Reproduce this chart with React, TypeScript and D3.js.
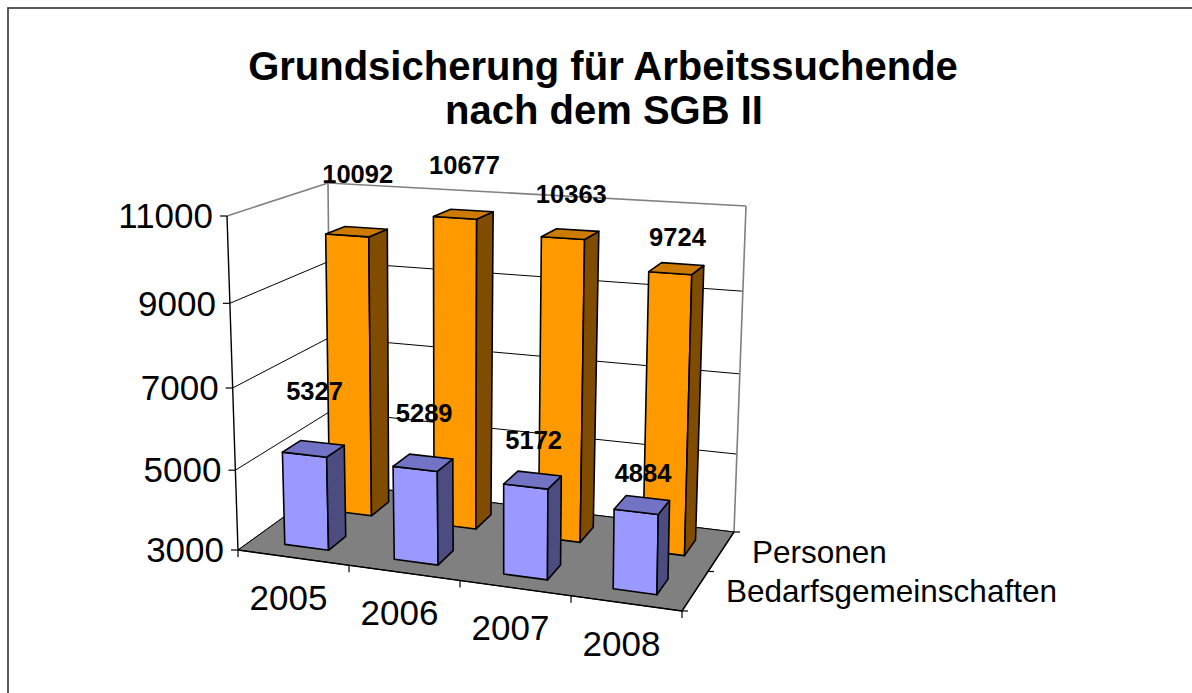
import React from "react";
import * as d3 from "d3";

const categories = ["2005", "2006", "2007", "2008"];
const seriesNames = ["Bedarfsgemeinschaften", "Personen"];
const bedarfsgemeinschaften = [5327, 5289, 5172, 4884];
const personen = [10092, 10677, 10363, 9724];
const valueTicks = [3000, 5000, 7000, 9000, 11000];

const W = 1192;
const H = 693;

type P = [number, number];
// Box corners (projection frame)
const FLB: P = [238, 550], FRB: P = [682, 611], BLB: P = [331, 483], BRB: P = [734, 532];
const FLT: P = [227, 216], FRT: P = [688, 246], BLT: P = [328, 183], BRT: P = [746, 206];
const K = -0.058;

const lerp = (a: P, b: P, t: number): P => [a[0] + (b[0] - a[0]) * t, a[1] + (b[1] - a[1]) * t];
function proj(u: number, w: number, v: number): P {
  const vv = (v * (1 + K)) / (1 + K * v);
  const fb = lerp(FLB, FRB, u), bb = lerp(BLB, BRB, u);
  const ft = lerp(FLT, FRT, u), bt = lerp(BLT, BRT, u);
  const b = lerp(fb, bb, w), t = lerp(ft, bt, w);
  return lerp(b, t, vv);
}
const pts = (a: P[]) => a.map((p) => p[0].toFixed(2) + "," + p[1].toFixed(2)).join(" ");
const line = (a: P, b: P) => ({ x1: a[0], y1: a[1], x2: b[0], y2: b[1] });

const vScale = d3.scaleLinear().domain([3000, 11000]).range([0, 1]);
const uScale = d3.scaleBand<string>().domain(categories).range([0, 1]).paddingInner(0.6).paddingOuter(0.3);
const uSlot = d3.scaleBand<string>().domain(categories).range([0, 1]);
const wScale = d3.scaleBand<string>().domain(seriesNames).range([0, 1]).paddingInner(0.6).paddingOuter(0.3);
const wSlot = d3.scaleBand<string>().domain(seriesNames).range([0, 1]);

const seriesDefs = [
  { name: "Personen", values: personen, front: "#FF9900", top: "#CC7A00", side: "#7F4C00" },
  { name: "Bedarfsgemeinschaften", values: bedarfsgemeinschaften, front: "#9999FF", top: "#7373C6", side: "#4C4C80" },
];

const FONT = "'Liberation Sans', Arial, Helvetica, sans-serif";

export default function App() {
  const gridVals = valueTicks;
  const bars: JSX.Element[] = [];
  const labels: JSX.Element[] = [];
  seriesDefs.forEach((s) => {
    const w0 = wScale(s.name)!, w1 = w0 + wScale.bandwidth();
    const wc = (w0 + w1) / 2;
    s.values.forEach((val, i) => {
      const c = categories[i];
      const u0 = uScale(c)!, u1 = u0 + uScale.bandwidth();
      const uc = (u0 + u1) / 2;
      const v = vScale(val);
      const front = [proj(u0, w0, 0), proj(u1, w0, 0), proj(u1, w0, v), proj(u0, w0, v)];
      const side = [proj(u1, w0, 0), proj(u1, w1, 0), proj(u1, w1, v), proj(u1, w0, v)];
      const top = [proj(u0, w0, v), proj(u1, w0, v), proj(u1, w1, v), proj(u0, w1, v)];
      bars.push(
        <g key={s.name + c} stroke="#000" strokeWidth={1.6} strokeLinejoin="round">
          <polygon points={pts(front)} fill={s.front} />
          <polygon points={pts(side)} fill={s.side} />
          <polygon points={pts(top)} fill={s.top} />
        </g>
      );
      const tc = proj(uc, wc, v);
      const lift = 58 - 8.75 * i;
      labels.push(
        <text key={"l" + s.name + c} x={tc[0] + 1} y={tc[1] - lift} dy="0.35em" textAnchor="middle"
          fontFamily={FONT} fontWeight="bold" fontSize={25.5} fill="#000">
          {String(val)}
        </text>
      );
    });
  });

  const floor = [proj(0, 0, 0), proj(1, 0, 0), proj(1, 1, 0), proj(0, 1, 0)];

  return (
    <svg width={W} height={H} viewBox={`0 0 ${W} ${H}`} style={{ position: "absolute", left: 0, top: 0, background: "#fff" }}>
      <rect x={0} y={0} width={W} height={H} fill="#fff" />
      <rect x={8} y={8} width={W + 20} height={H + 20} fill="none" stroke="#333" strokeWidth={1.6} />
      {/* title */}
      <text x={603} y={80} textAnchor="middle" fontFamily={FONT} fontWeight="bold" fontSize={40} fill="#000">
        Grundsicherung für Arbeitssuchende
      </text>
      <text x={604} y={124} textAnchor="middle" fontFamily={FONT} fontWeight="bold" fontSize={40} fill="#000">
        nach dem SGB II
      </text>
      {/* walls: gridlines */}
      {gridVals.map((g) => {
        const v = vScale(g);
        const top = g === 11000;
        const stroke = top ? "#808080" : "#000";
        const sw = top ? 1.6 : 1;
        return (
          <g key={"g" + g}>
            <line {...line(proj(0, 0, v), proj(0, 1, v))} stroke={stroke} strokeWidth={sw} />
            <line {...line(proj(0, 1, v), proj(1, 1, v))} stroke={stroke} strokeWidth={sw} />
          </g>
        );
      })}
      <line {...line(proj(0, 1, 0), proj(0, 1, 1))} stroke="#808080" strokeWidth={1.6} />
      <line {...line(proj(1, 1, 0), proj(1, 1, 1))} stroke="#808080" strokeWidth={1.6} />
      {/* floor */}
      <polygon points={pts(floor)} fill="#808080" stroke="#000" strokeWidth={1} />
      <line {...line(proj(0, 0, 0), proj(1, 0, 0))} stroke="#000" strokeWidth={1.4} />
      <line {...line(proj(1, 0, 0), proj(1, 1, 0))} stroke="#000" strokeWidth={1.4} />
      {/* value axis */}
      <line {...line(proj(0, 0, 0), proj(0, 0, 1))} stroke="#000" strokeWidth={1.4} />
      {valueTicks.map((t) => {
        const p = proj(0, 0, vScale(t));
        return (
          <g key={"vt" + t}>
            <line x1={p[0] - 7} y1={p[1]} x2={p[0]} y2={p[1]} stroke="#000" strokeWidth={1.2} />
            <text x={p[0] - 14} y={p[1]} dy="0.35em" textAnchor="end" fontFamily={FONT} fontSize={35} fill="#000">
              {String(t)}
            </text>
          </g>
        );
      })}
      {/* category axis ticks & labels */}
      {[0, 1, 2, 3, 4].map((k) => {
        const p = proj(k / 4, 0, 0);
        return <line key={"ct" + k} x1={p[0]} y1={p[1]} x2={p[0]} y2={p[1] + 7} stroke="#000" strokeWidth={1.2} />;
      })}
      {categories.map((c) => {
        const uc = uSlot(c)! + uSlot.bandwidth() / 2;
        const p = proj(uc, 0, 0);
        return (
          <text key={"cl" + c} x={p[0] - 5} y={p[1] + 40} dy="0.35em" textAnchor="middle" fontFamily={FONT} fontSize={35} fill="#000">
            {c}
          </text>
        );
      })}
      {/* series axis */}
      {[0, 0.5, 1].map((k) => {
        const p = proj(1, k, 0);
        return <line key={"st" + k} x1={p[0]} y1={p[1]} x2={p[0] + 6} y2={p[1]} stroke="#000" strokeWidth={1.2} />;
      })}
      {seriesNames.map((n) => {
        const wc = wSlot(n)! + wSlot.bandwidth() / 2;
        const p = proj(1, wc, 0);
        return (
          <text key={"sl" + n} x={p[0] + 31} y={p[1]} dy="0.35em" textAnchor="start" fontFamily={FONT} fontSize={31.5} fill="#000">
            {n}
          </text>
        );
      })}
      {bars}
      {labels}
    </svg>
  );
}
